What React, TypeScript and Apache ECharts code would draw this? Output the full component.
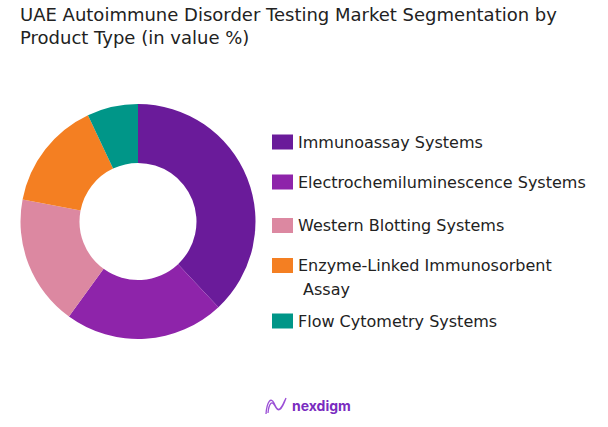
import React, { useEffect, useRef } from "react";
import * as echarts from "echarts";

const titleText = "UAE Autoimmune Disorder Testing Market Segmentation by\nProduct Type (in value %)";
const categories = [
  "Immunoassay Systems",
  "Electrochemiluminescence Systems",
  "Western Blotting Systems",
  "Enzyme-Linked Immunosorbent Assay",
  "Flow Cytometry Systems",
];
const legendLabels = [
  "Immunoassay Systems",
  "Electrochemiluminescence Systems",
  "Western Blotting Systems",
  "\nEnzyme-Linked Immunosorbent\n Assay",
  "Flow Cytometry Systems",
];
const values = [38, 22, 18, 15, 7];
const colors = ["#6A1B9A", "#8E24AA", "#DC88A1", "#F47F22", "#009688"];

const legendIconCenters = [142, 182, 225.5, 265.5, 321];

let registered = false;
function registerLogo() {
  if (registered) return;
  registered = true;
  echarts.graphic.registerShape(
    "logo",
    echarts.graphic.extendPath(
      "M1 17 C2 4 6 0 9 6 C12 13 14 17 20 3 M3 16 C4 6 7 3 10 9 C13 15 16 15 21 1",
      {}
    )
  );
}

export default function App() {
  const ref = useRef<HTMLDivElement>(null);
  useEffect(() => {
    if (!ref.current) return;
    registerLogo();
    const chart = echarts.init(ref.current, null, { renderer: "svg" });
    const font = "'DejaVu Sans', sans-serif";
    const legends = categories.map((name, i) => {
      const multi = legendLabels[i].startsWith("\n");
      const lh = multi ? 23.5 : 20;
      return {
        orient: "vertical",
        left: 272,
        top: multi ? legendIconCenters[i] - lh * 1.5 : legendIconCenters[i] - lh / 2,
        padding: 0,
        icon: "rect",
        itemWidth: 21,
        itemHeight: 15,
        selectedMode: false,
        data: [name],
        formatter: () => legendLabels[i],
        textStyle: {
          fontFamily: font,
          fontSize: 16,
          color: "#222222",
          lineHeight: lh,
        },
      };
    });
    chart.setOption({
      animation: false,
      color: colors,
      title: {
        text: titleText,
        left: 20,
        top: 3,
        padding: 0,
        textStyle: {
          fontFamily: font,
          fontSize: 18,
          fontWeight: "normal",
          color: "#222222",
          lineHeight: 22.7,
        },
      },
      legend: legends,
      series: [
        {
          type: "pie",
          center: [138, 221.5],
          radius: [58.5, 117.5],
          startAngle: 90,
          clockwise: true,
          label: { show: false },
          labelLine: { show: false },
          data: categories.map((name, i) => ({ name, value: values[i] })),
        },
      ],
      graphic: [
        {
          type: "logo",
          x: 265,
          y: 397,
          scaleX: 1,
          scaleY: 1,
          style: { fill: "none", stroke: "#9B4FD6", lineWidth: 1.3 },
        },
        {
          type: "text",
          x: 292,
          y: 405,
          style: {
            text: "nexdigm",
            fontFamily: "Inter, sans-serif",
            fontSize: 14,
            fontWeight: "bold",
            fill: "#7A2CC0",
            verticalAlign: "middle",
          },
        },
      ],
    });
    return () => chart.dispose();
  }, []);
  return (
    <div
      ref={ref}
      style={{ position: "fixed", left: 0, top: 0, width: 608, height: 427, background: "#fff" }}
    />
  );
}
